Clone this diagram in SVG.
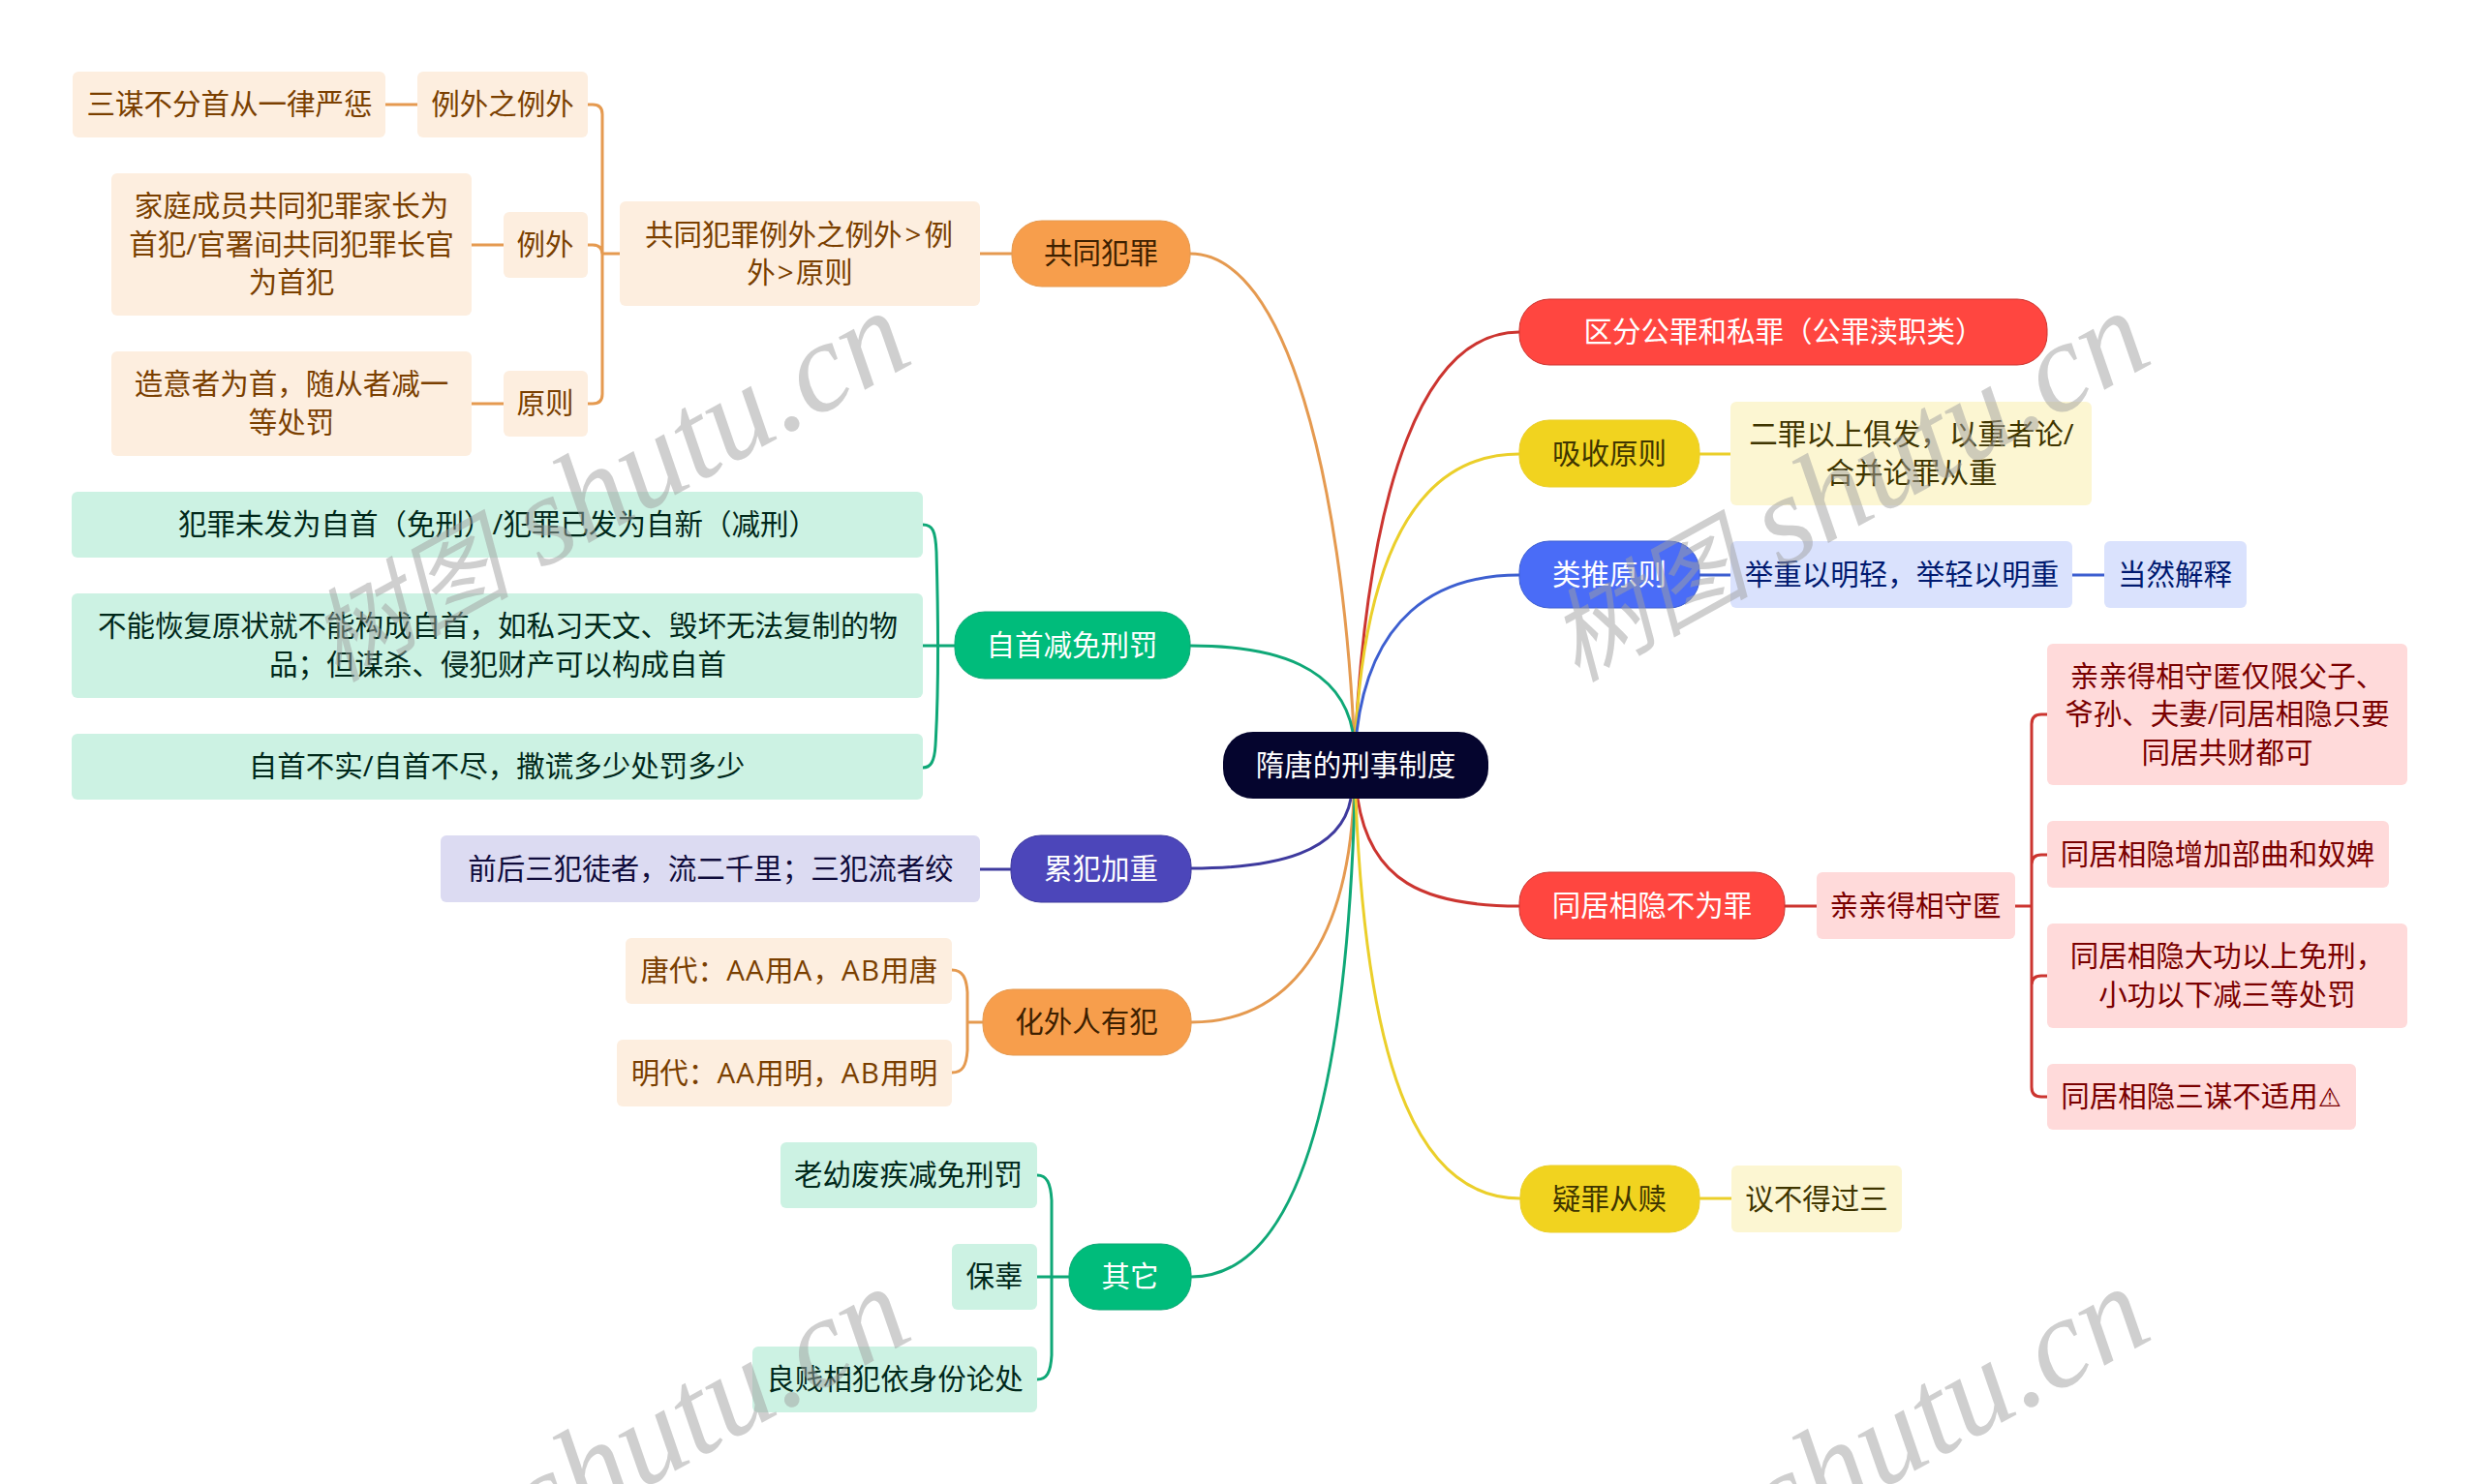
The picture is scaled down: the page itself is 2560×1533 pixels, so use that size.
<svg xmlns="http://www.w3.org/2000/svg" width="2560" height="1533" viewBox="0 0 2560 1533">
<style>
text{font-family:"Open Sans","Noto Sans CJK SC",sans-serif;font-size:29.5px;text-anchor:middle}
.l{letter-spacing:1.3px}
.sym{font-family:"DejaVu Sans","Noto Sans CJK SC",sans-serif;font-size:27px}
.w{fill:#fff}
.or{fill:#F79E4C;stroke:#E59A50}.orl{fill:#FDEEDF}.ort{fill:#7A3F00}.ord{fill:#3D2000}
.gr{fill:#00BC7B;stroke:#0FA877}.grl{fill:#CCF2E3}.grt{fill:#00281A}
.re{fill:#FF4640;stroke:#CC3530}.rel{fill:#FFDADA}.ret{fill:#7A0000}
.ye{fill:#F1D31F;stroke:#EBCF2A}.yel{fill:#FCF6D2}.yet{fill:#3F3500}
.bl{fill:#4A6CF7;stroke:#3D5FD0}.bll{fill:#DAE2FD}.blt{fill:#001A70}
.pu{fill:#4C46BA;stroke:#3E3A9E}.pul{fill:#DCDBF2}.put{fill:#100C3C}
#connectors path{fill:none;stroke-width:3;stroke-linecap:butt}
.c-or{stroke:#E59A50}.c-gr{stroke:#0FA877}.c-re{stroke:#CC3530}.c-ye{stroke:#EBCF2A}.c-bl{stroke:#3D5FD0}.c-pu{stroke:#3E3A9E}
.wm{font-family:"Liberation Serif","Noto Sans CJK SC",serif;font-style:italic;font-size:132px;text-anchor:start;fill:#a0a0a0;fill-opacity:.5}
.wm .cj{font-size:104px}
</style>
<rect width="2560" height="1533" fill="#fff"/>
<g id="connectors">
<path class="c-or" d="M1229 262C1330 262 1385 500 1398 756"/>
<path class="c-gr" d="M1229 667C1320 667 1385 690 1397 756"/>
<path class="c-re" d="M1569 343C1470 343 1415 500 1400 756"/>
<path class="c-ye" d="M1569 469C1470 469 1412 560 1400 756"/>
<path class="c-bl" d="M1569 594C1480 594 1415 640 1401 756"/>
<path class="c-pu" d="M1230 897C1320 897 1385 880 1395 825"/>
<path class="c-or" d="M1230 1056C1320 1056 1390 990 1398 825"/>
<path class="c-gr" d="M1230 1319C1340 1319 1390 1130 1399 825"/>
<path class="c-re" d="M1569 936C1470 936 1415 910 1402 825"/>
<path class="c-ye" d="M1570 1238C1470 1238 1412 1120 1400 825"/>
<path class="c-or" d="M1045 262H1012M640 262H622M398 108H431M487 253H520M487 417H520"/>
<path class="c-or" d="M607 108H612Q622 108 622 118V407Q622 417 612 417H607M607 253H612Q622 253 622 263"/>
<path class="c-gr" d="M986 667H953"/>
<path class="c-gr" d="M953 542C963 542 966 548 967 570C969 640 969 720 966 770C965 787 961 793 953 793"/>
<path class="c-pu" d="M1044 898H1012"/>
<path class="c-or" d="M1015 1056H999"/>
<path class="c-or" d="M983 1002C994 1002 998 1010 999 1025V1085C998 1101 994 1108 983 1108"/>
<path class="c-gr" d="M1104 1319H1071"/>
<path class="c-gr" d="M1071 1214C1081 1214 1085 1222 1086 1240V1400C1085 1418 1081 1425 1071 1425"/>
<path class="c-ye" d="M1755 469H1787M1755 1238H1788"/>
<path class="c-bl" d="M1755 594H1787M2140 594H2173"/>
<path class="c-re" d="M1843 936H1876M2081 936H2097"/>
<path class="c-re" d="M2114 738H2108Q2098 738 2098 748V1123Q2098 1133 2108 1133H2114M2114 883H2108Q2098 883 2098 893M2114 1008H2108Q2098 1008 2098 1018"/>
</g>
<g id="root"><rect x="1263" y="756" width="274" height="69" rx="31" fill="#05052E"/><text x="1400" y="801" class="w">隋唐的刑事制度</text></g>
<g id="n-gtfz"><rect class="or" x="1045" y="228" width="184" height="68" rx="31"/><text x="1137" y="272" class="ord">共同犯罪</text></g>
<g id="n-gtfz1"><rect class="orl" x="640" y="208" width="372" height="108" rx="6"/><text y="252.5" class="ort"><tspan x="825">共同犯罪例外之例外<tspan dx="3">&gt;</tspan><tspan dx="3">例</tspan></tspan><tspan x="826" dy="39.5">外<tspan dx="2">&gt;</tspan><tspan dx="2">原则</tspan></tspan></text></g>
<g id="n-lwzlw"><rect class="orl" x="431" y="74" width="176" height="68" rx="6"/><text x="519" y="118" class="ort">例外之例外</text></g>
<g id="n-smbf"><rect class="orl" x="75" y="74" width="323" height="68" rx="6"/><text x="237" y="118" class="ort">三谋不分首从一律严惩</text></g>
<g id="n-lw"><rect class="orl" x="520" y="219" width="87" height="68" rx="6"/><text x="563" y="263" class="ort">例外</text></g>
<g id="n-jt"><rect class="orl" x="115" y="179" width="372" height="147" rx="6"/><text y="223" class="ort"><tspan x="301">家庭成员共同犯罪家长为</tspan><tspan x="301" dy="39.5">首犯/官署间共同犯罪长官</tspan><tspan x="301" dy="39.5">为首犯</tspan></text></g>
<g id="n-yz"><rect class="orl" x="520" y="383" width="87" height="68" rx="6"/><text x="563" y="427" class="ort">原则</text></g>
<g id="n-zy"><rect class="orl" x="115" y="363" width="372" height="108" rx="6"/><text y="407" class="ort"><tspan x="301">造意者为首，随从者减一</tspan><tspan x="301" dy="39.5">等处罚</tspan></text></g>
<g id="n-zsjm"><rect class="gr" x="986" y="632" width="243" height="69" rx="31"/><text x="1107" y="677" class="w">自首减免刑罚</text></g>
<g id="n-fz"><rect class="grl" x="74" y="508" width="879" height="68" rx="6"/><text x="514" y="552" class="grt">犯罪未发为自首（免刑）/犯罪已发为自新（减刑）</text></g>
<g id="n-bn"><rect class="grl" x="74" y="613" width="879" height="108" rx="6"/><text y="657" class="grt"><tspan x="514">不能恢复原状就不能构成自首，如私习天文、毁坏无法复制的物</tspan><tspan x="514" dy="39.5">品；但谋杀、侵犯财产可以构成自首</tspan></text></g>
<g id="n-zsbs"><rect class="grl" x="74" y="758" width="879" height="68" rx="6"/><text x="513" y="802" class="grt">自首不实/自首不尽，撒谎多少处罚多少</text></g>
<g id="n-lf"><rect class="pu" x="1044" y="863" width="186" height="69" rx="31"/><text x="1137" y="908" class="w">累犯加重</text></g>
<g id="n-qh"><rect class="pul" x="455" y="863" width="557" height="69" rx="6"/><text x="734" y="908" class="put">前后三犯徒者，流二千里；三犯流者绞</text></g>
<g id="n-hw"><rect class="or" x="1015" y="1022" width="215" height="68" rx="31"/><text x="1122" y="1066" class="ord">化外人有犯</text></g>
<g id="n-td"><rect class="orl" x="646" y="969" width="337" height="68" rx="6"/><text x="815" y="1013" class="ort">唐代：<tspan class="l">AA</tspan>用<tspan class="l">A</tspan>，<tspan class="l">AB</tspan>用唐</text></g>
<g id="n-md"><rect class="orl" x="637" y="1074" width="346" height="69" rx="6"/><text x="810" y="1119" class="ort">明代：<tspan class="l">AA</tspan>用明，<tspan class="l">AB</tspan>用明</text></g>
<g id="n-qt"><rect class="gr" x="1104" y="1285" width="126" height="68" rx="31"/><text x="1167" y="1329" class="w">其它</text></g>
<g id="n-ly"><rect class="grl" x="806" y="1180" width="265" height="68" rx="6"/><text x="938" y="1224" class="grt">老幼废疾减免刑罚</text></g>
<g id="n-bg"><rect class="grl" x="983" y="1285" width="88" height="68" rx="6"/><text x="1027" y="1329" class="grt">保辜</text></g>
<g id="n-lj"><rect class="grl" x="777" y="1391" width="294" height="68" rx="6"/><text x="924" y="1435" class="grt">良贱相犯依身份论处</text></g>
<g id="n-qf"><rect class="re" x="1569" y="309" width="545" height="68" rx="31"/><text x="1842" y="353" class="w">区分公罪和私罪（公罪渎职类）</text></g>
<g id="n-xs"><rect class="ye" x="1569" y="434" width="186" height="69" rx="31"/><text x="1662" y="479" class="yet">吸收原则</text></g>
<g id="n-ez"><rect class="yel" x="1787" y="415" width="373" height="107" rx="6"/><text y="459" class="yet"><tspan x="1974">二罪以上俱发，以重者论/</tspan><tspan x="1974" dy="39.5">合并论罪从重</tspan></text></g>
<g id="n-lt"><rect class="bl" x="1569" y="559" width="186" height="69" rx="31"/><text x="1662" y="604" class="w">类推原则</text></g>
<g id="n-jz"><rect class="bll" x="1787" y="559" width="353" height="69" rx="6"/><text x="1964" y="604" class="blt">举重以明轻，举轻以明重</text></g>
<g id="n-dr"><rect class="bll" x="2173" y="559" width="147" height="69" rx="6"/><text x="2246" y="604" class="blt">当然解释</text></g>
<g id="n-tj"><rect class="re" x="1569" y="901" width="274" height="69" rx="31"/><text x="1706" y="946" class="w">同居相隐不为罪</text></g>
<g id="n-qq"><rect class="rel" x="1876" y="901" width="205" height="69" rx="6"/><text x="1978" y="946" class="ret">亲亲得相守匿</text></g>
<g id="n-qq1"><rect class="rel" x="2114" y="665" width="372" height="146" rx="6"/><text y="708.5" class="ret"><tspan x="2300">亲亲得相守匿仅限父子、</tspan><tspan x="2300" dy="39.5">爷孙、夫妻/同居相隐只要</tspan><tspan x="2300" dy="39.5">同居共财都可</tspan></text></g>
<g id="n-zj"><rect class="rel" x="2114" y="848" width="353" height="69" rx="6"/><text x="2290" y="893" class="ret">同居相隐增加部曲和奴婢</text></g>
<g id="n-dg"><rect class="rel" x="2114" y="954" width="372" height="108" rx="6"/><text y="998" class="ret"><tspan x="2300">同居相隐大功以上免刑，</tspan><tspan x="2300" dy="39.5">小功以下减三等处罚</tspan></text></g>
<g id="n-sm"><rect class="rel" x="2114" y="1099" width="319" height="68" rx="6"/><text x="2273" y="1143" class="ret">同居相隐三谋不适用<tspan class="sym">⚠</tspan></text></g>
<g id="n-yz2"><rect class="ye" x="1570" y="1204" width="185" height="69" rx="31"/><text x="1662" y="1249" class="yet">疑罪从赎</text></g>
<g id="n-yb"><rect class="yel" x="1788" y="1204" width="176" height="69" rx="6"/><text x="1876" y="1249" class="yet">议不得过三</text></g>
<g id="watermarks">
<text class="wm" transform="translate(348 705) rotate(-29)"><tspan class="cj">树图</tspan> shutu.cn</text>
<text class="wm" transform="translate(1628 705) rotate(-29)"><tspan class="cj">树图</tspan> shutu.cn</text>
<text class="wm" transform="translate(348 1713) rotate(-29)"><tspan class="cj">树图</tspan> shutu.cn</text>
<text class="wm" transform="translate(1628 1713) rotate(-29)"><tspan class="cj">树图</tspan> shutu.cn</text>
</g>
</svg>
